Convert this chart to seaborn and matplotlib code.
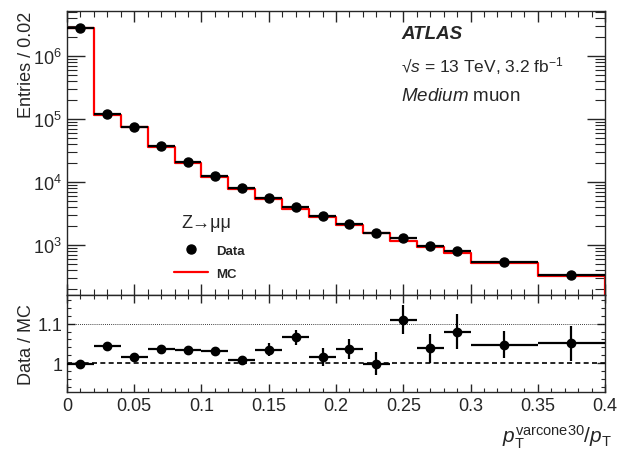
import numpy as np
import pandas as pd
import matplotlib
matplotlib.use("Agg")
import matplotlib.pyplot as plt
from matplotlib.lines import Line2D
from matplotlib.ticker import MultipleLocator, FixedLocator, LogLocator, NullFormatter, FixedFormatter
import seaborn as sns

# ---------------- data ----------------
bin_edges = [0.0, 0.02, 0.04, 0.06, 0.08, 0.10, 0.12, 0.14, 0.16, 0.18, 0.20,
             0.22, 0.24, 0.26, 0.28, 0.30, 0.35, 0.40]
data_entries = [2.82e6, 1.21e5, 7.6e4, 3.75e4, 2.11e4, 1.26e4, 7.96e3, 5.58e3,
                3.97e3, 2.86e3, 2.13e3, 1.55e3, 1.28e3, 975, 803, 543, 333]
ratio_values = [0.997, 1.043, 1.016, 1.036, 1.034, 1.030, 1.008, 1.034, 1.066,
                1.015, 1.035, 0.998, 1.110, 1.037, 1.080, 1.047, 1.050]
ratio_errors = [0.003, 0.004, 0.005, 0.006, 0.007, 0.007, 0.011, 0.016, 0.019,
                0.022, 0.025, 0.029, 0.037, 0.038, 0.045, 0.034, 0.044]
mc_entries = [d / r for d, r in zip(data_entries, ratio_values)]
x_ticks = [0, 0.05, 0.1, 0.15, 0.2, 0.25, 0.3, 0.35, 0.4]
x_ticklabels = ["0", "0.05", "0.1", "0.15", "0.2", "0.25", "0.3", "0.35", "0.4"]
ratio_ticks = [1.0, 1.1]
ratio_ticklabels = ["1", "1.1"]

edges = np.array(bin_edges)
centers = 0.5 * (edges[:-1] + edges[1:])
halfw = 0.5 * np.diff(edges)
df = pd.DataFrame({"x": centers, "mc": mc_entries, "data": data_entries,
                   "ratio": ratio_values, "rerr": ratio_errors})

# ---------------- style ----------------
sns.set_style("ticks")
plt.rcParams["font.family"] = ["Liberation Sans", "DejaVu Sans"]
plt.rcParams["mathtext.fontset"] = "custom"
plt.rcParams["mathtext.rm"] = "Liberation Sans"
plt.rcParams["mathtext.it"] = "Liberation Sans:italic"
plt.rcParams["mathtext.bf"] = "Liberation Sans:bold"
plt.rcParams["axes.linewidth"] = 1.0
plt.rcParams["xtick.direction"] = "in"
plt.rcParams["ytick.direction"] = "in"
plt.rcParams["xtick.top"] = True
plt.rcParams["ytick.right"] = True

fig = plt.figure(figsize=(6.18, 4.52), dpi=100)
ax1 = fig.add_axes([0.1084, 0.3451, 0.8706, 0.6290])
ax2 = fig.add_axes([0.1084, 0.1312, 0.8706, 0.2139], sharex=ax1)

# ---------------- top panel ----------------
sns.histplot(data=df, x="x", weights="mc", bins=list(bin_edges), element="step",
             fill=False, color="#ff0000", linewidth=1.6, ax=ax1)
ax1.plot([edges[-1], edges[-1]], [mc_entries[-1], 1.0], color="#ff0000", lw=1.6,
         clip_on=True)
ax1.errorbar(centers, data_entries, xerr=halfw, fmt="o", color="black",
             markersize=6.5, elinewidth=1.6, capsize=0, zorder=5)
ax1.set_yscale("log")
ax1.set_xlim(0, 0.4)
ax1.set_ylim(160, 5.3e6)
ax1.set_xlabel("")
ax1.set_ylabel("Entries / 0.02", fontsize=13, loc="top")
ax1.yaxis.set_major_locator(LogLocator(base=10, numticks=10))
ax1.yaxis.set_minor_locator(LogLocator(base=10, subs=np.arange(2, 10), numticks=10))
ax1.yaxis.set_minor_formatter(NullFormatter())
ax1.tick_params(axis="y", which="major", length=13, labelsize=13, width=1)
ax1.tick_params(axis="y", which="minor", length=7, width=0.8)
ax1.tick_params(axis="x", which="major", length=8, width=1, labelbottom=False)
ax1.tick_params(axis="x", which="minor", length=4, width=0.8)
ax1.xaxis.set_major_locator(FixedLocator(x_ticks))
ax1.xaxis.set_minor_locator(MultipleLocator(0.01))
for s in ax1.spines.values():
    s.set_visible(True)

# annotation
ax1.text(0.621, 0.92, "ATLAS", transform=ax1.transAxes, fontsize=13.5,
         fontweight="bold", fontstyle="italic", va="center")
ax1.text(0.621, 0.81, "\u221a$\\mathit{s}$ = 13 TeV, 3.2 fb$^{-1}$", transform=ax1.transAxes,
         fontsize=12.5, va="center")
ax1.text(0.621, 0.70, r"$\mathit{Medium}$ muon", transform=ax1.transAxes,
         fontsize=13.5, va="center")

# legend
ax1.text(0.213, 0.256, "Z\u2192\u03bc\u03bc", transform=ax1.transAxes, fontsize=13,
         va="center")
handles = [Line2D([], [], marker="o", color="black", linestyle="none", markersize=6.5),
           Line2D([], [], color="#ff0000", lw=1.6)]
leg = ax1.legend(handles, ["Data", "MC"], loc="upper left",
                 bbox_to_anchor=(0.176, 0.22), frameon=False,
                 prop={"weight": "bold", "size": 9.5}, handlelength=2.6,
                 labelspacing=0.85, handletextpad=0.6)

# ---------------- bottom panel ----------------
ax2.axhline(1.0, color="black", linestyle=(0, (3, 2)), lw=1.2)
ax2.axhline(1.1, color="black", linestyle=(0, (1, 1.5)), lw=0.6)
ax2.errorbar(centers, ratio_values, xerr=halfw, yerr=ratio_errors, fmt="o",
             color="black", markersize=6, elinewidth=1.6, capsize=0, zorder=5)
ax2.set_xlim(0, 0.4)
ax2.set_ylim(0.927, 1.173)
ax2.set_ylabel("Data / MC", fontsize=13)
ax2.yaxis.set_label_coords(-0.06, 0.5)
ax1.yaxis.set_label_coords(-0.06, 1.0)
ax2.yaxis.set_major_locator(FixedLocator(ratio_ticks))
ax2.yaxis.set_major_formatter(FixedFormatter(ratio_ticklabels))
ax2.yaxis.set_minor_locator(MultipleLocator(0.02))
ax2.xaxis.set_major_locator(FixedLocator(x_ticks))
ax2.xaxis.set_major_formatter(FixedFormatter(x_ticklabels))
ax2.xaxis.set_minor_locator(MultipleLocator(0.01))
ax2.tick_params(axis="both", which="major", length=6, labelsize=13, width=1)
ax2.tick_params(axis="both", which="minor", length=3, width=0.8)
ax2.tick_params(axis="x", pad=4)
ax2.set_xlabel(r"$p_{\mathrm{T}}^{\mathrm{varcone30}}/p_{\mathrm{T}}$", fontsize=15,
               loc="right", labelpad=6)
ax2.xaxis.label.set_x(1.012)
for s in ax2.spines.values():
    s.set_visible(True)

fig.savefig("out.png", dpi=100)
